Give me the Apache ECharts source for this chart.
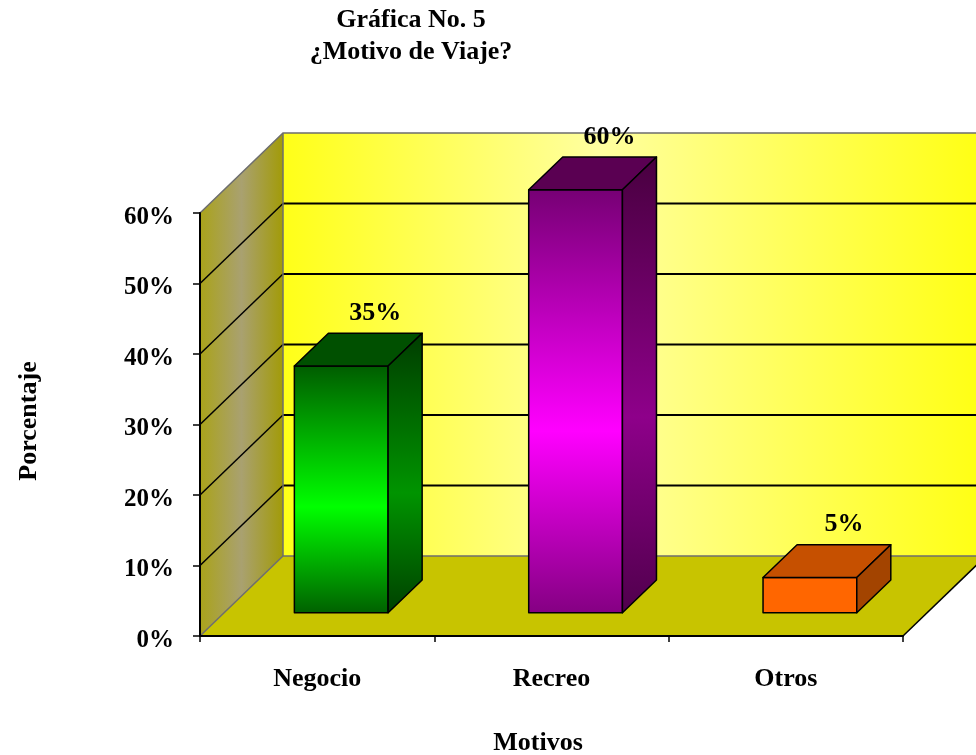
<!DOCTYPE html>
<html>
<head>
<meta charset="utf-8">
<script src="https://cdn.jsdelivr.net/npm/echarts@6/dist/echarts.min.js"></script>
<style>
  html, body { margin: 0; padding: 0; background: #fff; }
  #chart { width: 976px; height: 755px; }
</style>
</head>
<body>
<div id="chart"></div>
<script>
  // data
  var categories = ['Negocio', 'Recreo', 'Otros'];
  var porcentajes = [0.35, 0.60, 0.05];
  var etiquetas = ['35%', '60%', '5%'];
  var yTicks = [0.1, 0.2, 0.3, 0.4, 0.5];

  var FONT = '"Liberation Serif", "Times New Roman", serif';
  // depth of the 3d box (px)
  var DX = 83, DY = -80;
  var F0 = 0.29, F1 = 0.70;   // bar depth position
  var BAR = 0.4;              // bar width / band width

  var barStyles = [
    { front: ['#005c00', '#00ff00', '#006000'], top: '#005000', side: ['#003c00', '#009400', '#004000'] },
    { front: ['#760074', '#ff00ff', '#840082'], top: '#5a0052', side: ['#48003f', '#8e008a', '#50004c'] },
    { front: ['#ff6600', '#ff6600', '#ff6600'], top: '#c65000', side: ['#a34400', '#a34400', '#a34400'] }
  ];

  function vgrad(c) {
    return new echarts.graphic.LinearGradient(0, 0, 0, 1, [
      { offset: 0, color: c[0] }, { offset: 0.57, color: c[1] }, { offset: 1, color: c[2] }
    ]);
  }

  var chart = echarts.init(document.getElementById('chart'));

  function renderWalls(params, api) {
    var cs = params.coordSys;
    var x0 = cs.x, y0 = cs.y, w = cs.width, h = cs.height, yb = y0 + h;
    var kids = [];
    // side wall
    kids.push({ type: 'polygon', shape: { points: [[x0, y0], [x0 + DX, y0 + DY], [x0 + DX, yb + DY], [x0, yb]] },
      style: { fill: new echarts.graphic.LinearGradient(0, 0, 1, 0, [
        { offset: 0, color: '#aaa31a' }, { offset: 0.5, color: '#a9a170' }, { offset: 1, color: '#a29b08' }]),
        stroke: null } });
    // back wall
    kids.push({ type: 'rect', shape: { x: x0 + DX, y: y0 + DY, width: w, height: h },
      style: { fill: new echarts.graphic.LinearGradient(0, 0, 1, 0, [
        { offset: 0, color: '#ffff18' }, { offset: 0.45, color: '#ffffa0' }, { offset: 1, color: '#ffff12' }]),
        stroke: null } });
    // floor
    kids.push({ type: 'polygon', shape: { points: [[x0, yb], [x0 + w, yb], [x0 + w + DX, yb + DY], [x0 + DX, yb + DY]] },
      style: { fill: '#c8c400', stroke: null } });
    // gridlines
    yTicks.forEach(function (v) {
      var y = api.coord([0, v])[1];
      kids.push({ type: 'line', shape: { x1: x0 + DX, y1: y + DY, x2: x0 + w + DX, y2: y + DY },
        style: { stroke: '#000', lineWidth: 2 } });
      kids.push({ type: 'line', shape: { x1: x0, y1: y, x2: x0 + DX, y2: y + DY },
        style: { stroke: '#000', lineWidth: 1.5 } });
    });
    // grey edges
    var grey = { stroke: '#6e6e6e', lineWidth: 1.5, fill: 'none' };
    kids.push({ type: 'polyline', shape: { points: [[x0, y0], [x0 + DX, y0 + DY], [x0 + w + DX, y0 + DY]] }, style: grey });
    kids.push({ type: 'polyline', shape: { points: [[x0, yb], [x0 + DX, yb + DY], [x0 + w + DX, yb + DY]] }, style: grey });
    kids.push({ type: 'line', shape: { x1: x0 + DX, y1: y0 + DY, x2: x0 + DX, y2: yb + DY }, style: grey });
    // floor right edge
    kids.push({ type: 'line', shape: { x1: x0 + w, y1: yb, x2: x0 + w + DX, y2: yb + DY },
      style: { stroke: '#000', lineWidth: 1.5 } });
    return { type: 'group', children: kids };
  }

  function renderBar(params, api) {
    var i = api.value(0), v = api.value(1);
    var base = api.coord([i, 0]), top = api.coord([i, v]);
    var bw = api.size([1, 0])[0] * BAR;
    var fl = base[0] - bw / 2 + DX * F0, fr = fl + bw;
    var fb = base[1] + DY * F0, ft = top[1] + DY * F0;
    var dx = DX * (F1 - F0), dy = DY * (F1 - F0);
    var s = barStyles[params.dataIndex];
    var edge = { stroke: '#000', lineWidth: 1.5, lineJoin: 'round' };
    return {
      type: 'group',
      children: [
        { type: 'rect', shape: { x: fl, y: ft, width: bw, height: fb - ft },
          style: Object.assign({ fill: vgrad(s.front) }, edge) },
        { type: 'polygon', shape: { points: [[fl, ft], [fr, ft], [fr + dx, ft + dy], [fl + dx, ft + dy]] },
          style: Object.assign({ fill: s.top }, edge) },
        { type: 'polygon', shape: { points: [[fr, ft], [fr + dx, ft + dy], [fr + dx, fb + dy], [fr, fb]] },
          style: Object.assign({ fill: vgrad(s.side) }, edge) },
        { type: 'text', style: { x: fl + dx + bw / 2, y: ft + dy - 20, text: etiquetas[params.dataIndex],
          fill: '#000', font: 'bold 26px ' + FONT, textAlign: 'center', textVerticalAlign: 'middle' } }
      ]
    };
  }

  var option = {
    animation: false,
    backgroundColor: '#fff',
    grid: { left: 200, top: 213, width: 703, height: 423 },
    xAxis: {
      type: 'category',
      data: categories,
      boundaryGap: true,
      z: 10,
      axisLine: { lineStyle: { color: '#000', width: 2 } },
      axisTick: { show: true, length: 6, alignWithLabel: false, lineStyle: { color: '#000', width: 1.5 } },
      axisLabel: { color: '#000', fontFamily: FONT, fontWeight: 'bold', fontSize: 26, margin: 30 },
      splitLine: { show: false }
    },
    yAxis: {
      type: 'value',
      min: 0, max: 0.6, interval: 0.1,
      z: 10,
      axisLine: { show: true, lineStyle: { color: '#000', width: 2 } },
      axisTick: { show: true, length: 7, lineStyle: { color: '#000', width: 1.5 } },
      axisLabel: { color: '#000', fontFamily: FONT, fontWeight: 'bold', fontSize: 25, margin: 26,
        formatter: function (v) { return '{p|' + Math.round(v * 100) + '%}'; },
        rich: { p: { color: '#000', fontFamily: FONT, fontWeight: 'bold', fontSize: 25, padding: [9, 0, 0, 0] } } },
      splitLine: { show: false }
    },
    graphic: [
      { type: 'text', x: 411, y: 20, style: { text: 'Gráfica No. 5', fill: '#000', font: 'bold 26px ' + FONT,
        textAlign: 'center', textVerticalAlign: 'middle' } },
      { type: 'text', x: 411, y: 52, style: { text: '¿Motivo de Viaje?', fill: '#000', font: 'bold 26px ' + FONT,
        textAlign: 'center', textVerticalAlign: 'middle' } },
      { type: 'text', x: 29, y: 421, rotation: Math.PI / 2, style: { text: 'Porcentaje', fill: '#000',
        font: 'bold 26px ' + FONT, textAlign: 'center', textVerticalAlign: 'middle' } },
      { type: 'text', x: 538, y: 743, style: { text: 'Motivos', fill: '#000', font: 'bold 26px ' + FONT,
        textAlign: 'center', textVerticalAlign: 'middle' } }
    ],
    series: [
      { type: 'custom', name: 'walls', clip: false, z: 1, silent: true,
        renderItem: renderWalls, data: [[0, 0]] },
      { type: 'custom', name: 'Porcentaje', clip: false, z: 3,
        renderItem: renderBar,
        data: porcentajes.map(function (p, i) { return [i, p]; }) }
    ]
  };

  chart.setOption(option);
  window.addEventListener('resize', chart.resize);
</script>
</body>
</html>
